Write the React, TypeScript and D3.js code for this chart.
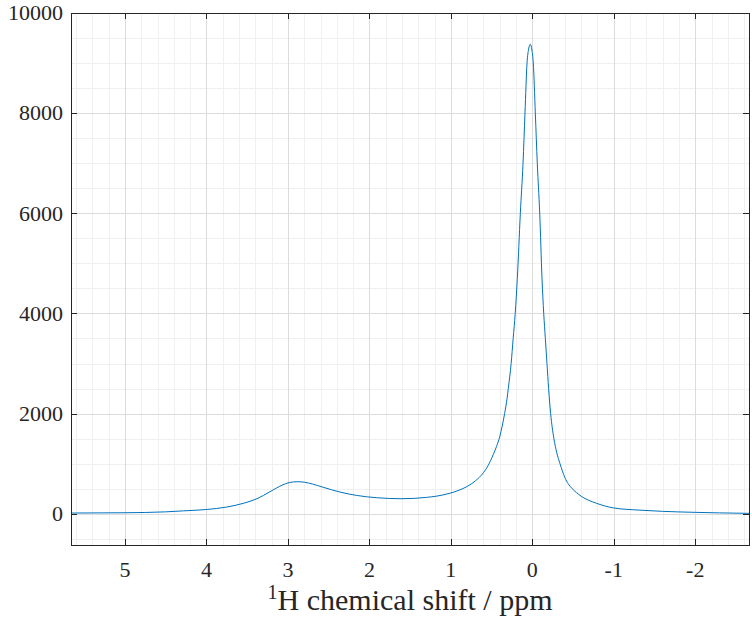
import { useEffect, useRef } from 'react';
import * as d3 from 'd3';

// chemical shift (ppm) and intensity
const ppm = [
  5.66, 5.0, 4.5, 4.28, 4.0, 3.75, 3.55, 3.38, 3.22, 3.06, 3.0, 2.93, 2.88, 2.8, 2.7,
  2.57, 2.36, 2.16, 1.91, 1.6, 1.3, 1.17, 1.0, 0.9, 0.8, 0.7, 0.6, 0.54, 0.48, 0.44,
  0.4, 0.37, 0.34, 0.31, 0.295, 0.26, 0.235, 0.21, 0.184, 0.147, 0.114, 0.09, 0.065,
  0.045, 0.025, 0.005, -0.012, -0.037, -0.061, -0.091, -0.119, -0.14, -0.16, -0.18,
  -0.2, -0.225, -0.265, -0.3, -0.34, -0.37, -0.4, -0.44, -0.49, -0.54, -0.6, -0.79,
  -1.0, -1.32, -1.6, -2.0, -2.3, -2.66,
];
const intensity = [
  14, 20, 38, 58, 85, 134, 207, 300, 440, 580, 615, 636, 640, 630, 595,
  530, 433, 367, 320, 300, 327, 353, 415, 470, 545, 655, 820, 970, 1180, 1340,
  1540, 1750, 2000, 2300, 2500, 3000, 3500, 4000, 4700, 6000, 7000, 8000, 9000,
  9280, 9375, 9260, 9000, 8000, 7000, 6000, 4700, 4000, 3500, 3000,
  2500, 2000, 1500, 1220, 1000, 850, 720, 600, 500, 425, 350, 208,
  116, 72, 48, 28, 17, 8,
];

const xTicks = [5, 4, 3, 2, 1, 0, -1, -2];
const xTickLabels = ['5', '4', '3', '2', '1', '0', '-1', '-2'];
const yTicks = [0, 2000, 4000, 6000, 8000, 10000];
const yTickLabels = ['0', '2000', '4000', '6000', '8000', '10000'];

export default function App() {
  const svgRef = useRef<SVGSVGElement>(null);
  const width = 752;
  const height = 619;

  useEffect(() => {
    if (!svgRef.current) return;
    d3.select(svgRef.current).selectAll('*').remove();

    const left = 71, right = 749, top = 13, bottom = 545.3;
    const svg = d3.select(svgRef.current);
    const font = 'Liberation Serif';
    const ink = '#262626';

    const x = d3.scaleLinear().domain([5.663, -2.66]).range([left, right]);
    const y = d3.scaleLinear().domain([-630, 10000]).range([bottom, top]);

    svg.append('rect')
      .attr('x', left).attr('y', top)
      .attr('width', right - left).attr('height', bottom - top)
      .attr('fill', '#fff');

    // minor grid
    const xMinor = d3.range(-26, 57, 2).map(v => v / 10).filter(v => !xTicks.includes(v));
    const yMinor = d3.range(-500, 10001, 500).filter(v => v % 2000 !== 0);
    const grid = svg.append('g').attr('shape-rendering', 'crispEdges');
    grid.selectAll('.xminor').data(xMinor).join('line')
      .attr('x1', d => Math.round(x(d)) + 0.5).attr('x2', d => Math.round(x(d)) + 0.5)
      .attr('y1', top).attr('y2', bottom)
      .attr('stroke', '#f0f0f0');
    grid.selectAll('.yminor').data(yMinor).join('line')
      .attr('y1', d => Math.round(y(d)) + 0.5).attr('y2', d => Math.round(y(d)) + 0.5)
      .attr('x1', left).attr('x2', right)
      .attr('stroke', '#f0f0f0');

    // major grid
    grid.selectAll('.xmajor').data(xTicks).join('line')
      .attr('x1', d => Math.round(x(d)) + 0.5).attr('x2', d => Math.round(x(d)) + 0.5)
      .attr('y1', top).attr('y2', bottom)
      .attr('stroke', '#dcdcdc');
    grid.selectAll('.ymajor').data(yTicks).join('line')
      .attr('y1', d => Math.round(y(d)) + 0.5).attr('y2', d => Math.round(y(d)) + 0.5)
      .attr('x1', left).attr('x2', right)
      .attr('stroke', '#dcdcdc');

    // spectrum
    const pts = ppm.map((p, i) => [p, intensity[i]] as [number, number]);
    const line = d3.line<[number, number]>()
      .x(d => x(d[0]))
      .y(d => y(d[1]))
      .curve(d3.curveMonotoneX);
    svg.append('path')
      .datum(pts)
      .attr('d', line)
      .attr('fill', 'none')
      .attr('stroke', '#0072BD')
      .attr('stroke-width', 1);

    // box and inward ticks
    const axes = svg.append('g').attr('shape-rendering', 'crispEdges').attr('stroke', ink);
    axes.append('rect')
      .attr('x', left).attr('y', top)
      .attr('width', right - left).attr('height', bottom - top)
      .attr('fill', 'none');
    const tl = 6;
    xTicks.forEach(t => {
      const px = Math.round(x(t)) + 0.5;
      axes.append('line').attr('x1', px).attr('x2', px).attr('y1', bottom).attr('y2', bottom - tl);
      axes.append('line').attr('x1', px).attr('x2', px).attr('y1', top).attr('y2', top + tl);
    });
    yTicks.forEach(t => {
      const py = Math.round(y(t)) + 0.5;
      axes.append('line').attr('x1', left).attr('x2', left + tl).attr('y1', py).attr('y2', py);
      axes.append('line').attr('x1', right).attr('x2', right - tl).attr('y1', py).attr('y2', py);
    });

    // tick labels
    svg.selectAll('.xlab').data(xTicks).join('text')
      .attr('x', d => x(d))
      .attr('y', 577)
      .attr('text-anchor', 'middle')
      .style('font-family', font)
      .attr('font-size', 22)
      .attr('fill', ink)
      .text((d, i) => xTickLabels[i]);

    svg.selectAll('.ylab').data(yTicks).join('text')
      .attr('x', 63)
      .attr('y', d => y(d))
      .attr('dy', '0.33em')
      .attr('text-anchor', 'end')
      .style('font-family', font)
      .attr('font-size', 22)
      .attr('fill', ink)
      .text((d, i) => yTickLabels[i]);

    // axis label
    const xl = svg.append('text')
      .attr('x', (left + right) / 2)
      .attr('y', 610)
      .attr('text-anchor', 'middle')
      .style('font-family', font)
      .attr('font-size', 30)
      .attr('fill', ink);
    xl.append('tspan').attr('font-size', 20).attr('dy', -11).text('1');
    xl.append('tspan').attr('dy', 11).text('H chemical shift / ppm');
  }, []);

  return (
    <svg
      ref={svgRef}
      width={width}
      height={height}
      style={{ position: 'absolute', left: 0, top: 0, background: '#fff' }}
    />
  );
}
